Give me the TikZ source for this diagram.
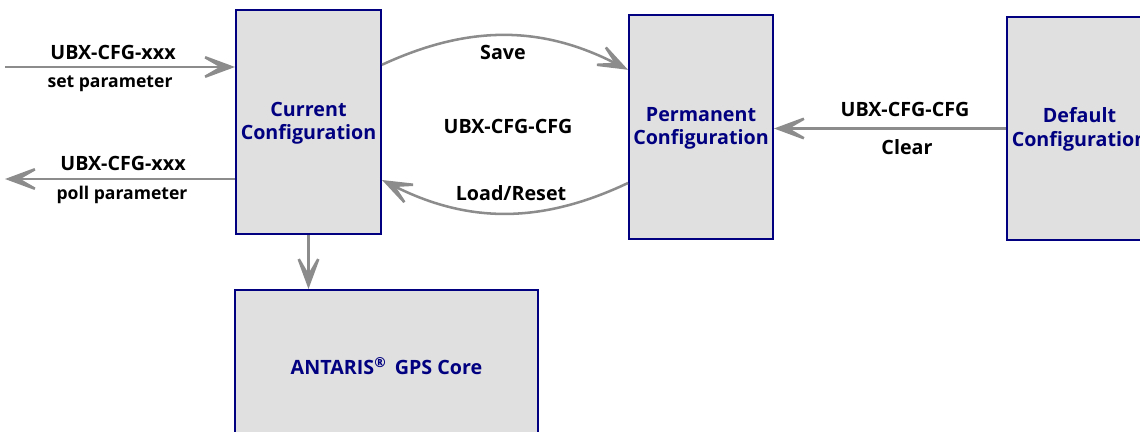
\documentclass[tikz,border=0pt]{standalone}
\usepackage{fontspec}
\setmainfont{Open Sans}
\usetikzlibrary{arrows.meta}
\definecolor{Navy}{rgb}{0.0, 0.0, 0.5}
\definecolor{BoxGray}{rgb}{0.878, 0.878, 0.878}
\definecolor{LineGray}{rgb}{0.55, 0.55, 0.55}

\tikzset{
  cfgbox/.style={draw=Navy, fill=BoxGray, line width=1.4pt, align=center,
    text=Navy, font=\fontsize{14}{17}\selectfont\bfseries, inner sep=0pt},
  flow/.style={LineGray, line width=1.8pt,
    -{Stealth[length=31pt, width=23pt, inset=20pt]}},
  lbl/.style={font=\fontsize{14}{16}\selectfont\bfseries, inner sep=1pt},
  sublbl/.style={font=\fontsize{12.5}{14}\selectfont\bfseries, inner sep=1pt}
}

\begin{document}
\begin{tikzpicture}[x=0.025cm, y=-0.025cm]

% Canvas (pixels of the 1140 x 432 sheet)
\useasboundingbox (0,0) rectangle (1140,432);
\clip (0,0) rectangle (1140,432);

% ============================================================
% Boxes
% ============================================================
\node[cfgbox, minimum width=3.625cm, minimum height=5.6cm]
  (current) at (308.5,122) {\strut Current\\Configuration};
\node[cfgbox, minimum width=3.6cm, minimum height=5.6cm]
  (perm) at (701,127) {\strut Permanent\\Configuration};
\node[cfgbox, minimum width=3.625cm, minimum height=5.575cm]
  (default) at (1079.5,128.5) {\strut Default\\Configuration};
\node[cfgbox, minimum width=7.575cm, minimum height=3.8cm]
  (core) at (386.5,366) {ANTARIS\textsuperscript{®}\, GPS Core};

% Free ends on the left
\coordinate (setin) at (5,67);
\coordinate (pollout) at (5,179);

% ============================================================
% Connectors
% ============================================================
\draw[flow] (setin) -- (setin -| current.west);
\draw[flow] (pollout -| current.west) -- (pollout);
\draw[flow] ([yshift=1.43cm]current.east) to[bend left=26]
  ([yshift=1.43cm]perm.west);
\draw[flow] ([yshift=-1.4cm]perm.west) to[bend left=26]
  ([yshift=-1.45cm]current.east);
\draw[flow] (default.west) -- (default.west -| perm.east);
\draw[flow] (current.south) -- (current.south |- core.north);

% ============================================================
% Labels
% ============================================================
\node[lbl] (setcmd) at (113,52) {UBX-CFG-xxx};
\node[sublbl] (setname) at (110,84) {set parameter};
\node[lbl] (pollcmd) at (123,163) {UBX-CFG-xxx};
\node[sublbl] (pollname) at (122,195) {poll parameter};
\node[lbl] (save) at (503,52) {Save};
\node[lbl] (cfgcmd) at (508,126) {UBX-CFG-CFG};
\node[lbl] (load) at (511,193) {Load/Reset};
\node[lbl] (clearcmd) at (905,109) {UBX-CFG-CFG};
\node[lbl] (clear) at (907,147) {Clear};

\end{tikzpicture}
\end{document}
